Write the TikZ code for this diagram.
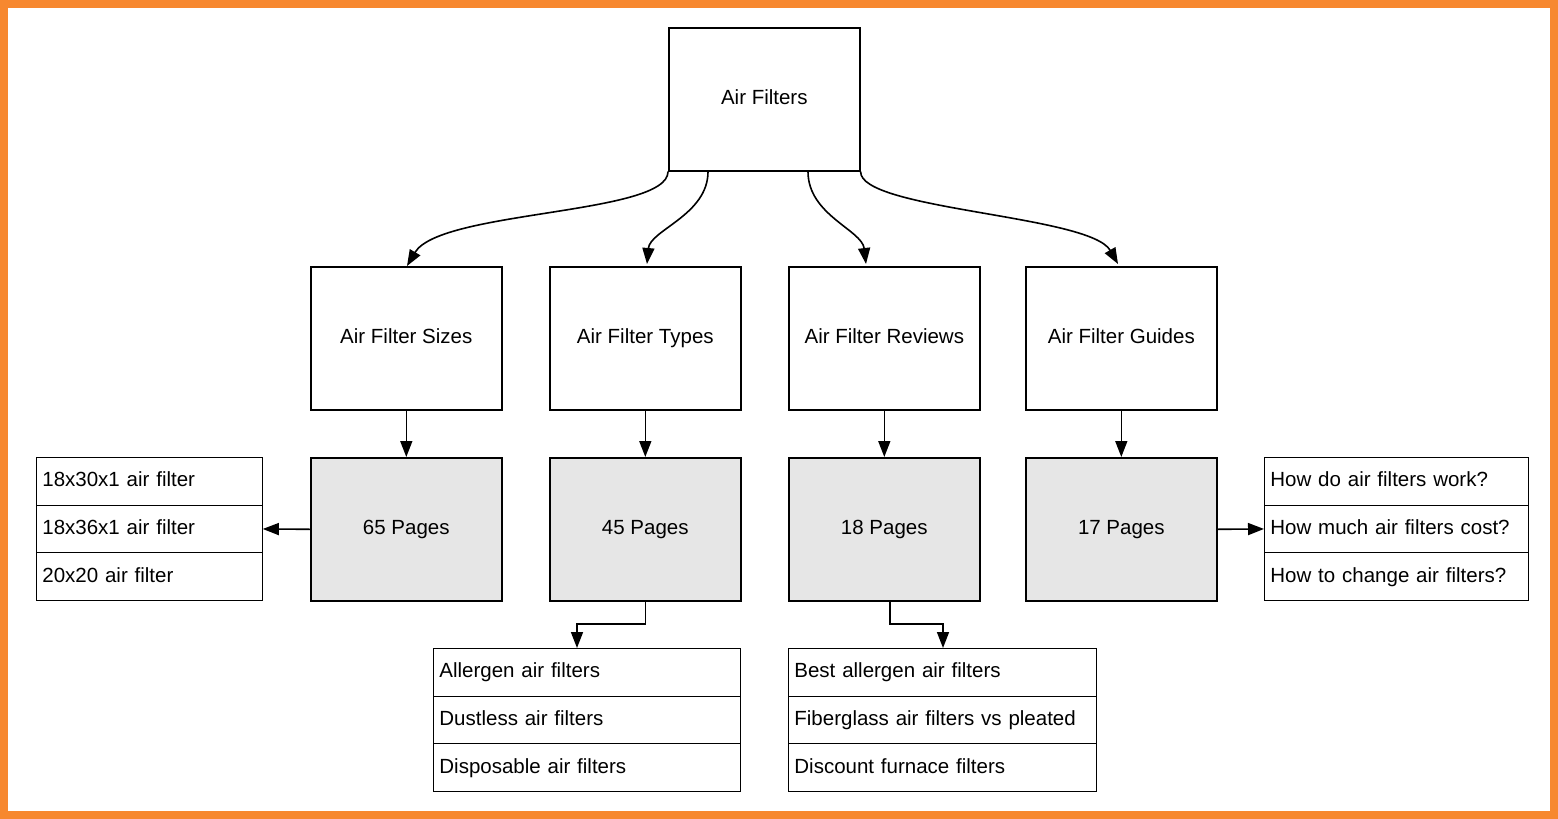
\documentclass[tikz,border=0pt]{standalone}
\usepackage{fontspec}
\setmainfont{Liberation Sans}
\usetikzlibrary{arrows.meta}
\definecolor{org}{HTML}{F7882F}
\definecolor{pg}{HTML}{E6E6E6}
\begin{document}
\begin{tikzpicture}[x=1pt,y=-1pt,
 box/.style={draw,line width=1.6pt,minimum width=191pt,minimum height=143pt,anchor=north west,font=\fontsize{20.5}{24}\selectfont,inner sep=0,text height=15pt,text depth=4pt},
 pbox/.style={box,fill=pg},
 row/.style={draw,line width=0.8pt,minimum height=47.7pt,anchor=north west,text width=#1,inner xsep=6pt,inner ysep=0,align=left,font=\fontsize{20.5}{24}\selectfont,text height=15pt,text depth=4pt},
 arr/.style={line width=1.6pt,-{Triangle[length=16pt,width=12pt]}}]
\useasboundingbox (0,0) rectangle (1558,819);
\fill[white] (0,0) rectangle (1558,819);
\draw[org,line width=8pt] (4,4) rectangle (1554,815);
\node[box] (root) at (668,27) {Air Filters};
\node[box] (s) at (310,266) {Air Filter Sizes};
\node[box] (t) at (549,266) {Air Filter Types};
\node[box] (r) at (788,266) {Air Filter Reviews};
\node[box] (g) at (1025,266) {Air Filter Guides};
\node[pbox] (ps) at (310,457) {65 Pages};
\node[pbox] (pt) at (549,457) {45 Pages};
\node[pbox] (pr) at (788,457) {18 Pages};
\node[pbox] (pgd) at (1025,457) {17 Pages};
% lists
\node[row=214pt] (l1) at (36,457) {18x30x1 air filter};
\node[row=214pt] (l2) at (36,504.7) {18x36x1 air filter};
\node[row=214pt] (l3) at (36,552.4) {20x20 air filter};
\node[row=252pt] (g1) at (1264,457) {How do air filters work?};
\node[row=252pt] (g2) at (1264,504.7) {How much air filters cost?};
\node[row=252pt] (g3) at (1264,552.4) {How to change air filters?};
\node[row=295pt] (t1) at (433,648) {Allergen air filters};
\node[row=295pt] (t2) at (433,695.7) {Dustless air filters};
\node[row=295pt] (t3) at (433,743.4) {Disposable air filters};
\node[row=296pt] (r1) at (788,648) {Best allergen air filters};
\node[row=296pt] (r2) at (788,695.7) {Fiberglass air filters vs pleated};
\node[row=296pt] (r3) at (788,743.4) {Discount furnace filters};
% curved arrows
\draw[arr] (root.south west) .. controls (668,215) and (440,210) .. (s.north -| 407,266);
\draw[arr] ([xshift=40pt]root.south west) .. controls (708,215) and (650,230) .. (647,264);
\draw[arr] ([xshift=140pt]root.south west) .. controls (808,215) and (862,230) .. (866,264);
\draw[arr] (root.south east) .. controls (860,210) and (1090,215) .. (1118,264);
% straight arrows
\foreach \a/\b in {s/ps,t/pt,r/pr,g/pgd} \draw[arr] (\a.south) -- (\b.north);
\draw[arr] (ps.west) -- (l2.east);
\draw[arr] (pgd.east) -- (g2.west);
\draw[arr] (pt.south) |- (577,624) -- (t1.north -| 577,648);
\draw[arr] (890,600) |- (943,624) -- (r1.north -| 943,648);
\end{tikzpicture}
\end{document}
